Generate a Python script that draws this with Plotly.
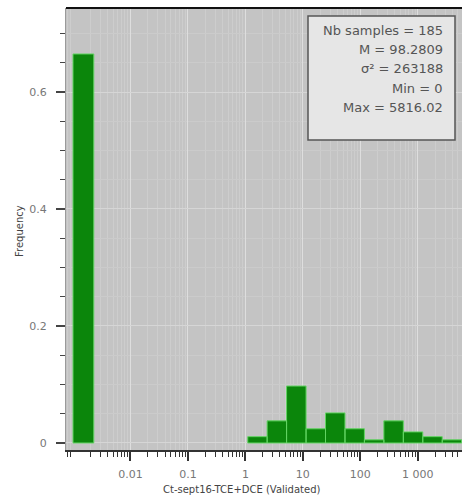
import plotly.graph_objects as go

# ---- data ----
bin_edges = [1.10, 2.39, 5.21, 11.37, 24.8, 54.1, 117.9, 257.2, 560.9, 1223.0, 2667.0, 5816.02]
frequencies = [0.0108, 0.0378, 0.0973, 0.0243, 0.0514, 0.0243, 0.0054, 0.0378, 0.0189, 0.0108, 0.0054]
zero_bin = [0.001, 0.0023]
zero_freq = 0.665

tick_vals = [0.01, 0.1, 1, 10, 100, 1000]
tick_text = ["0.01", "0.1", "1", "10", "100", "1 000"]
stats_lines = ["Nb samples = 185", "M = 98.2809", "σ² = 263188", "Min = 0", "Max = 5816.02"]

W, H = 462, 497
L, R, T, B = 66, 0, 8, 47
pw, ph = W - L - R, H - T - B

# build polygons for bars
xs, ys = [], []
all_left = [zero_bin[0]] + bin_edges[:-1]
all_right = [zero_bin[1]] + bin_edges[1:]
all_h = [zero_freq] + frequencies
for x0, x1, h in zip(all_left, all_right, all_h):
    xs += [x0, x0, x1, x1, x0, None]
    ys += [0, h, h, 0, 0, None]

fig = go.Figure()
fig.add_trace(go.Scatter(
    x=xs, y=ys, mode="lines", fill="toself",
    fillcolor="#0b860b", line=dict(color="#62d462", width=1),
    hoverinfo="skip", showlegend=False,
))

minor_vals = [m * 10 ** e for e in range(-4, 4) for m in range(2, 10)]

font = "DejaVu Sans"
fig.update_layout(
    width=W, height=H,
    margin=dict(l=L, r=R, t=T, b=B),
    paper_bgcolor="white",
    plot_bgcolor="#c4c4c4",
    font=dict(family=font, size=11, color="#555"),
    showlegend=False,
)
fig.update_xaxes(
    type="log", range=[-3.122, 3.77],
    tickmode="array", tickvals=tick_vals, ticktext=tick_text,
    ticks="outside", ticklen=9, tickwidth=2, tickcolor="#333",
    ticklabelstandoff=4,
    showline=True, linecolor="#333", linewidth=2,
    showgrid=True, gridcolor="#dedede", gridwidth=1,
    minor=dict(tickmode="array", tickvals=minor_vals, ticks="outside", ticklen=5,
               tickwidth=1, tickcolor="#333", showgrid=True, gridcolor="#cdcdcd", gridwidth=1),
    zeroline=False,
    tickfont=dict(size=11, color="#777"),
)
fig.update_yaxes(
    range=[-0.012, 0.7436],
    tickmode="array", tickvals=[0, 0.2, 0.4, 0.6], ticktext=["0", "0.2", "0.4", "0.6"],
    ticks="outside", ticklen=9, tickwidth=2, tickcolor="#444",
    ticklabelstandoff=7,
    showline=True, linecolor="#9a9a9a", linewidth=1,
    showgrid=True, gridcolor="#d6d6d6", gridwidth=1,
    minor=dict(dtick=0.05, ticks="outside", ticklen=5, tickwidth=1, tickcolor="#444",
               showgrid=True, gridcolor="#cbcbcb", gridwidth=1),
    zeroline=False,
    tickfont=dict(size=11, color="#777"),
)

# top border
fig.add_shape(type="line", xref="paper", yref="paper", x0=0, x1=1, y0=1, y1=1,
              line=dict(color="#111", width=2))

# stats box
def px_to_py(py):
    return 1 - (py - T) / ph

def px_to_px(px):
    return (px - L) / pw

fig.add_shape(type="rect", xref="paper", yref="paper",
              x0=px_to_px(308), x1=px_to_px(455), y0=px_to_py(140), y1=px_to_py(16),
              fillcolor="#e6e6e6", line=dict(color="#555", width=1.5))
line_y = [30, 49.5, 69, 88.5, 108]
for txt, py in zip(stats_lines, line_y):
    fig.add_annotation(text=txt, xref="paper", yref="paper", x=px_to_px(445), y=px_to_py(py),
                       xanchor="right", yanchor="middle", showarrow=False,
                       font=dict(family=font, size=13, color="#555"))

# axis titles
fig.add_annotation(text="Ct-sept16-TCE+DCE (Validated)", xref="paper", yref="paper",
                   x=px_to_px(241), y=px_to_py(490), xanchor="center", yanchor="middle",
                   showarrow=False, font=dict(family=font, size=10, color="#444"))
fig.add_annotation(text="Frequency", xref="paper", yref="paper",
                   x=px_to_px(19), y=px_to_py(231), xanchor="center", yanchor="middle",
                   textangle=-90, showarrow=False, font=dict(family=font, size=10, color="#444"))

fig.write_html("out.html")
